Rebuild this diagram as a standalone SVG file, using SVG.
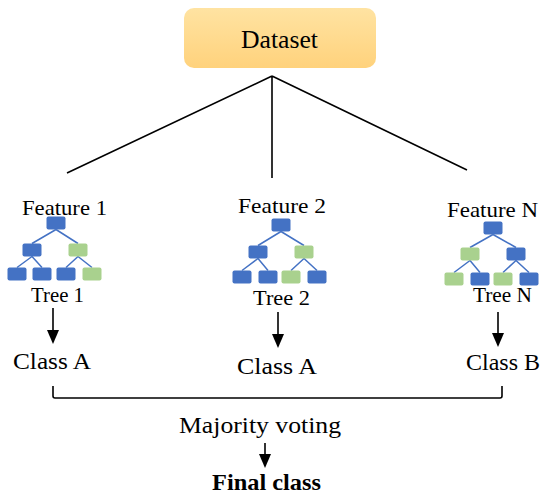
<svg xmlns="http://www.w3.org/2000/svg" width="550" height="499" viewBox="0 0 550 499">
<style>
text{font-family:"Liberation Serif","Times New Roman",serif;fill:#000}
.b{fill:#4472C4}
.g{fill:#A9D18E}
.e{stroke:#4472C4;stroke-width:1.5;fill:none}
.c{stroke:#000;stroke-width:1.6;fill:none}
</style>
<defs>
<linearGradient id="og" x1="0" y1="0" x2="0" y2="1">
<stop offset="0" stop-color="#FFE3A2"/>
<stop offset="1" stop-color="#FFD27C"/>
</linearGradient>
<g id="nb"><rect x="-9.5" y="-6.5" width="19" height="13" rx="2" class="b"/></g>
<g id="ng"><rect x="-9.5" y="-6.5" width="19" height="13" rx="2" class="g"/></g>
</defs>
<rect width="550" height="499" fill="#fff"/>

<g id="dataset">
<rect x="184" y="8" width="192" height="60" rx="10" fill="url(#og)"/>
<text x="241" y="48" font-size="25" textLength="77" lengthAdjust="spacingAndGlyphs">Dataset</text>
</g>

<g id="connectors">
<path class="c" d="M272,76 L67,173 M272,76 L272,178 M272,76 L467,170"/>
<path class="c" d="M53,308 V330" />
<path d="M47,330 L59,330 L53,344 Z"/>
<path class="c" d="M278,312 V334"/>
<path d="M272,334 L284,334 L278,348 Z"/>
<path class="c" d="M498,312 V333"/>
<path d="M492,333 L504,333 L498,347 Z"/>
<path class="c" d="M53,386 V396 Q53,398 55,398 H500 Q502,398 502,396 V386"/>
<path class="c" d="M265,443 V454"/>
<path d="M259,454 L271,454 L265,468 Z"/>
</g>

<g id="tree1">
<text x="22" y="215" font-size="21" textLength="85" lengthAdjust="spacingAndGlyphs">Feature 1</text>
<path class="e" d="M56,229.5 L32,243.5 M56,229.5 L78,243.5 M32,256.5 L17,267.5 M32,256.5 L42,267.5 M78,256.5 L66,267.5 M78,256.5 L92,267.5"/>
<use href="#nb" x="56" y="223"/>
<use href="#nb" x="32" y="250"/>
<use href="#ng" x="78" y="250"/>
<use href="#nb" x="17" y="274"/>
<use href="#nb" x="42" y="274"/>
<use href="#nb" x="66" y="274"/>
<use href="#ng" x="92" y="274"/>
<text x="31" y="302" font-size="22" textLength="53" lengthAdjust="spacingAndGlyphs">Tree 1</text>
</g>

<g id="tree2">
<text x="238" y="213" font-size="21" textLength="88" lengthAdjust="spacingAndGlyphs">Feature 2</text>
<path class="e" d="M281,231.5 L258,245.5 M281,231.5 L304,245.5 M258,258.5 L242,270.5 M258,258.5 L268,270.5 M304,258.5 L291,270.5 M304,258.5 L317,270.5"/>
<use href="#nb" x="281" y="225"/>
<use href="#nb" x="258" y="252"/>
<use href="#ng" x="304" y="252"/>
<use href="#nb" x="242" y="277"/>
<use href="#nb" x="268" y="277"/>
<use href="#ng" x="291" y="277"/>
<use href="#nb" x="317" y="277"/>
<text x="253" y="305" font-size="22" textLength="57" lengthAdjust="spacingAndGlyphs">Tree 2</text>
</g>

<g id="treeN">
<text x="447" y="217" font-size="21" textLength="91" lengthAdjust="spacingAndGlyphs">Feature N</text>
<path class="e" d="M493,234.5 L470,247.5 M493,234.5 L516,247.5 M470,260.5 L454,272.5 M470,260.5 L480,272.5 M516,260.5 L503,272.5 M516,260.5 L529,272.5"/>
<use href="#nb" x="493" y="228"/>
<use href="#ng" x="470" y="254"/>
<use href="#nb" x="516" y="254"/>
<use href="#ng" x="454" y="279"/>
<use href="#nb" x="480" y="279"/>
<use href="#ng" x="503" y="279"/>
<use href="#nb" x="529" y="279"/>
<text x="473" y="302" font-size="22" textLength="59" lengthAdjust="spacingAndGlyphs">Tree N</text>
</g>

<g id="class1"><text x="13" y="369" font-size="24" textLength="78" lengthAdjust="spacingAndGlyphs">Class A</text></g>
<g id="class2"><text x="237" y="374" font-size="24" textLength="80" lengthAdjust="spacingAndGlyphs">Class A</text></g>
<g id="classN"><text x="466" y="370" font-size="24" textLength="74" lengthAdjust="spacingAndGlyphs">Class B</text></g>

<g id="voting"><text x="179" y="433" font-size="23" textLength="162" lengthAdjust="spacingAndGlyphs">Majority voting</text></g>
<g id="final"><text x="212" y="490" font-size="24" font-weight="bold" textLength="109" lengthAdjust="spacingAndGlyphs">Final class</text></g>
</svg>
